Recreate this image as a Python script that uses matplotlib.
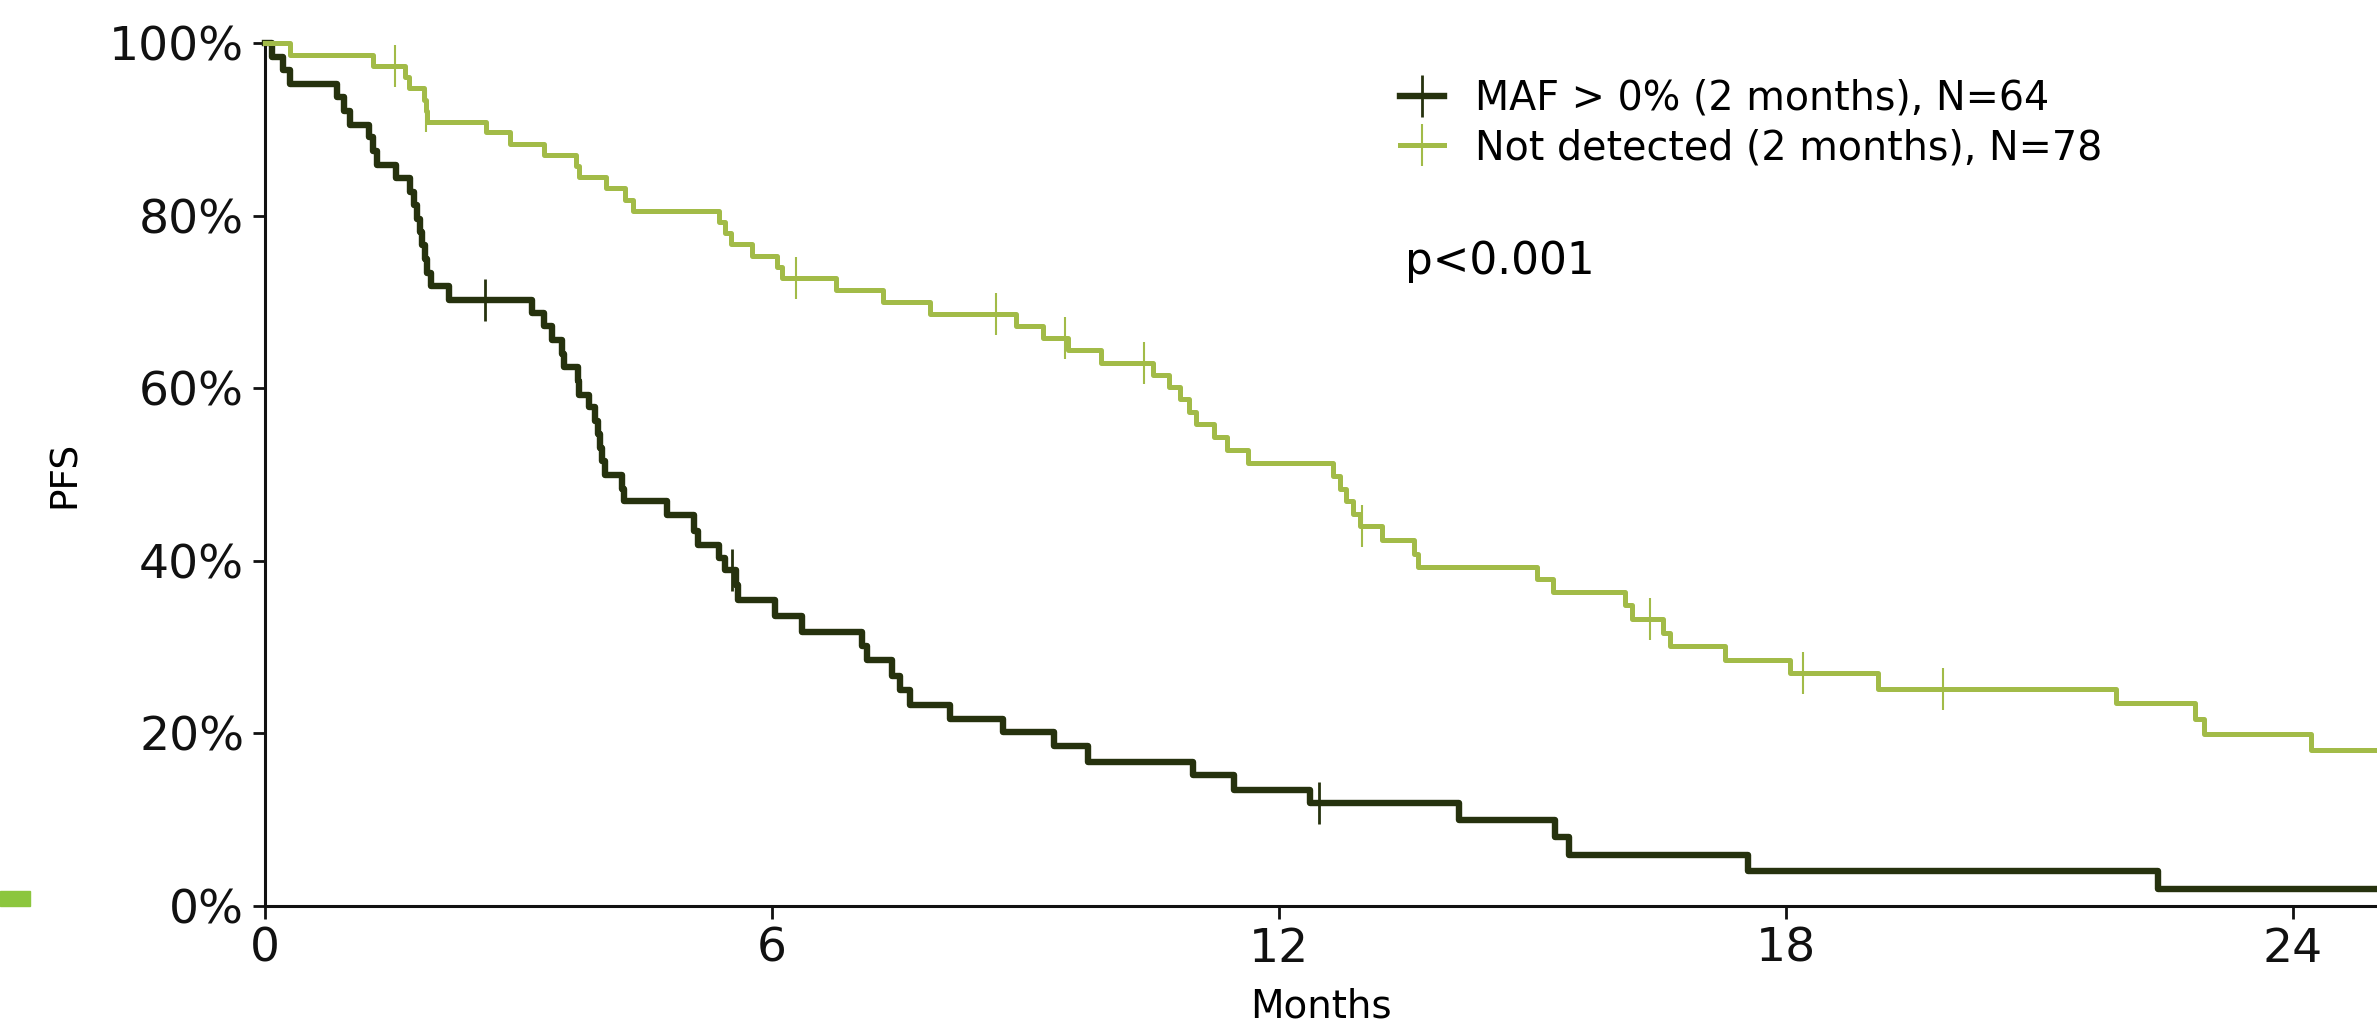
import matplotlib
matplotlib.use("Agg")
import matplotlib.pyplot as plt
import numpy as np
from matplotlib.lines import Line2D
from matplotlib.patches import Rectangle
from matplotlib.ticker import PercentFormatter

# Kaplan-Meier steps: month of each drop and the PFS (%) right after it
maf_times = [0, 0.08, 0.21, 0.29, 0.85, 0.93, 1.01, 1.23, 1.28, 1.33, 1.55,
             1.72, 1.76, 1.80, 1.83, 1.86, 1.89, 1.92, 1.96, 2.18, 3.16, 3.30,
             3.40, 3.52, 3.54, 3.70, 3.72, 3.83, 3.91, 3.94, 3.96, 3.99, 4.02,
             4.23, 4.25, 4.76, 5.08, 5.12, 5.37, 5.45, 5.57, 5.60, 6.04, 6.36,
             7.07, 7.12, 7.42, 7.52, 7.63, 8.11, 8.73, 9.34, 9.74, 10.99,
             11.47, 12.37, 14.13, 15.27, 15.43, 17.55, 22.41]
maf_pfs = [100, 98.4, 96.9, 95.3, 93.8, 92.2, 90.6, 89.1, 87.5, 85.9, 84.4,
           82.8, 81.3, 79.7, 78.1, 76.6, 75.0, 73.4, 71.9, 70.3, 68.8, 67.2,
           65.6, 64.0, 62.5, 60.9, 59.3, 57.8, 56.2, 54.7, 53.1, 51.6, 50.0,
           48.4, 46.9, 45.3, 43.5, 41.9, 40.4, 38.9, 37.2, 35.5, 33.6, 31.8,
           30.1, 28.5, 26.7, 25.0, 23.3, 21.7, 20.2, 18.5, 16.7, 15.2,
           13.5, 11.9, 10.0, 8.0, 5.9, 4.0, 2.0]
maf_censored = [2.60, 5.53, 12.48]

nd_times = [0, 0.29, 1.28, 1.66, 1.70, 1.88, 1.90, 1.92, 2.61, 2.90, 3.30,
            3.68, 3.72, 4.04, 4.26, 4.36, 5.37, 5.45, 5.51, 5.77, 6.06, 6.12,
            6.76, 7.31, 7.87, 8.89, 9.21, 9.50, 9.90, 10.51, 10.70, 10.83,
            10.94, 11.02, 11.23, 11.39, 11.63, 12.64, 12.72, 12.80, 12.88,
            12.96, 13.22, 13.60, 13.65, 15.06, 15.25, 16.10, 16.18, 16.55,
            16.63, 17.28, 18.05, 19.09, 21.91, 22.84, 22.95, 24.22]
nd_pfs = [100, 98.7, 97.4, 96.1, 94.8, 93.5, 92.2, 90.9, 89.7, 88.4, 87.1,
          85.8, 84.5, 83.2, 81.9, 80.6, 79.3, 78.0, 76.7, 75.4, 74.1, 72.8,
          71.4, 70.0, 68.6, 67.3, 65.9, 64.5, 63.0, 61.6, 60.2, 58.8,
          57.3, 55.9, 54.4, 52.9, 51.4, 49.8, 48.3, 46.9, 45.4,
          44.0, 42.4, 40.8, 39.3, 37.9, 36.4, 34.9, 33.3, 31.7,
          30.1, 28.5, 27.0, 25.2, 23.5, 21.7, 19.9, 18.1]
nd_censored = [1.54, 1.91, 6.28, 8.65, 9.47, 10.40, 12.98, 16.39, 18.21, 19.86]

followup_end = 25.0
month_ticks = [0, 6, 12, 18, 24]
pfs_ticks = [0, 20, 40, 60, 80, 100]
group_labels = ["MAF > 0% (2 months), N=64", "Not detected (2 months), N=78"]
group_colors = ["#26320e", "#a2bb48"]
p_label = "p<0.001"

fig = plt.figure(figsize=(23.77, 10.25), dpi=100)
ax = fig.add_axes([0.1115, 0.1161, 0.8885, 0.8415])

groups = [
    (maf_times, maf_pfs, maf_censored, 4.6, 2.0),
    (nd_times, nd_pfs, nd_censored, 3.6, 1.5),
]
for (times, pfs, censored, lw, mew), color in zip(groups, group_colors):
    t = np.append(times, followup_end)
    s = np.append(pfs, pfs[-1])
    ax.step(t, s, where="post", color=color, lw=lw, clip_on=False, zorder=3)
    idx = np.searchsorted(times, censored, side="right") - 1
    ax.plot(censored, np.asarray(pfs)[idx], ls="none", marker="|",
            ms=30, mew=mew, color=color, zorder=4)

ax.set_xlim(0, followup_end)
ax.set_ylim(0, 100)
ax.set_xticks(month_ticks)
ax.set_yticks(pfs_ticks)
ax.yaxis.set_major_formatter(PercentFormatter(100, decimals=0))
ax.tick_params(labelsize=34, length=9, width=2, pad=6, colors="#111111")

for side in ("top", "right"):
    ax.spines[side].set_visible(False)
for side in ("left", "bottom"):
    ax.spines[side].set_linewidth(2.2)
    ax.spines[side].set_color("#111111")

ax.set_xlabel("Months", fontsize=28, labelpad=11)
ax.set_ylabel("PFS", fontsize=27, labelpad=19)

handles = [
    Line2D([], [], color=c, lw=lw, marker="|", ms=30, mew=mew)
    for c, (_, _, _, lw, mew) in zip(group_colors, groups)
]
fig.legend(handles, group_labels, loc="upper left",
           bbox_to_anchor=(0.589, 0.923), frameon=False, fontsize=28.5,
           borderpad=0, borderaxespad=0, handlelength=1.1,
           handletextpad=0.8, labelspacing=0.23)

ax.text(0.540, 0.747, p_label, transform=ax.transAxes, fontsize=31.5,
        ha="left", va="center")

# small green bar sitting on the left margin
fig.patches.append(Rectangle((0, 0.1161), 0.0126, 0.0146,
                             transform=fig.transFigure, color="#8cc63e",
                             zorder=0))

fig.savefig("out.png", dpi=100)
plt.close(fig)
